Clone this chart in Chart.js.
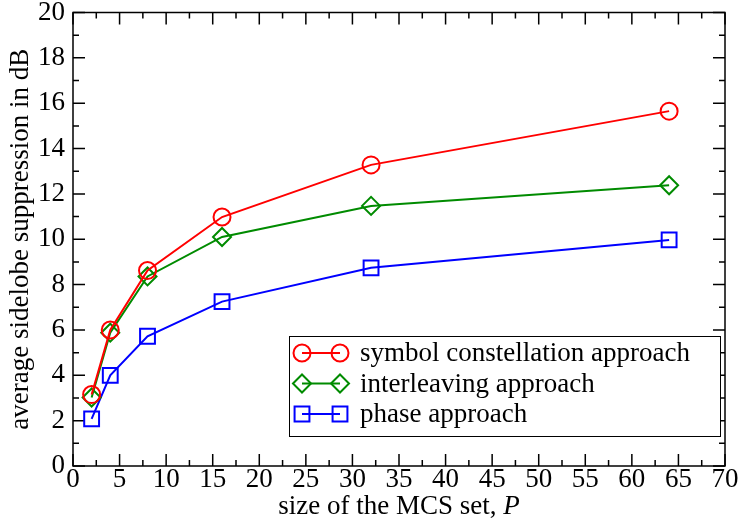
<!DOCTYPE html>
<html>
<head>
<meta charset="utf-8">
<script src="https://cdn.jsdelivr.net/npm/chart.js@4.4.0/dist/chart.umd.min.js"></script>
<style>
  html, body { margin: 0; padding: 0; background: #fff; }
  #wrap { width: 741px; height: 522px; }
</style>
</head>
<body>
<div id="wrap"><canvas id="chart" width="741" height="522"></canvas></div>
<script>
// data
const sizes = [2, 4, 8, 16, 32, 64];
const symbolConst = [3.15, 6.0, 8.62, 10.98, 13.28, 15.65];
const interleave = [3.02, 5.88, 8.36, 10.1, 11.47, 12.38];
const phase = [2.08, 4.0, 5.72, 7.25, 8.74, 9.97];
const xTicks = [0, 5, 10, 15, 20, 25, 30, 35, 40, 45, 50, 55, 60, 65, 70];
const yTicks = [0, 2, 4, 6, 8, 10, 12, 14, 16, 18, 20];
const seriesNames = ['symbol constellation approach', 'interleaving approach', 'phase approach'];

const FONT = '"Liberation Serif", "DejaVu Serif", serif';
const FS = 27;
const RED = '#ff0000', GREEN = '#008b00', BLUE = '#0000ff';

function pts(ys) {
    return sizes.map((s, i) => ({x: s, y: ys[i]}));
}

const series = [
    {name: seriesNames[0], data: symbolConst, color: RED, style: 'circle', r: 8.5},
    {name: seriesNames[1], data: interleave, color: GREEN, style: 'rectRot', r: 9},
    {name: seriesNames[2], data: phase, color: BLUE, style: 'rect', r: 10.5}
];

// frame + inward ticks on all four sides, legend and x title
const framePlugin = {
    id: 'frame',
    beforeDatasetsDraw(chart) {
        const {ctx, chartArea: a, scales: {x, y}} = chart;
        ctx.save();
        ctx.strokeStyle = '#000';
        ctx.lineWidth = 1.5;
        ctx.strokeRect(a.left, a.top, a.right - a.left, a.bottom - a.top);
        ctx.beginPath();
        for (let v = 0; v <= 70; v += 2.5) {
            const px = x.getPixelForValue(v);
            const len = v % 5 === 0 ? 12 : 6;
            ctx.moveTo(px, a.bottom); ctx.lineTo(px, a.bottom - len);
            ctx.moveTo(px, a.top); ctx.lineTo(px, a.top + len);
        }
        for (let v = 0; v <= 20; v += 1) {
            const py = y.getPixelForValue(v);
            const len = v % 2 === 0 ? 12 : 6;
            ctx.moveTo(a.left, py); ctx.lineTo(a.left + len, py);
            ctx.moveTo(a.right, py); ctx.lineTo(a.right - len, py);
        }
        ctx.stroke();
        ctx.restore();
    },
    afterDraw(chart) {
        const {ctx, chartArea: a} = chart;
        ctx.save();
        // x axis title with italic P
        ctx.fillStyle = '#000';
        ctx.textBaseline = 'middle';
        const t1 = 'size of the MCS set, ';
        ctx.font = FS + 'px ' + FONT;
        const w1 = ctx.measureText(t1).width;
        ctx.font = 'italic ' + FS + 'px ' + FONT;
        const w2 = ctx.measureText('P').width;
        const cx = (a.left + a.right) / 2;
        const sx = cx - (w1 + w2) / 2;
        ctx.font = FS + 'px ' + FONT;
        ctx.textAlign = 'left';
        ctx.fillText(t1, sx, 507);
        ctx.font = 'italic ' + FS + 'px ' + FONT;
        ctx.fillText('P', sx + w1, 507);

        // legend box
        const bx = 289, by = 336, bw = 431, bh = 100;
        ctx.fillStyle = '#fff';
        ctx.fillRect(bx, by, bw, bh);
        ctx.strokeStyle = '#000';
        ctx.lineWidth = 1;
        ctx.strokeRect(bx + 0.5, by + 0.5, bw, bh);
        series.forEach((s, i) => {
            const ry = 353 + i * 30.5;
            ctx.strokeStyle = s.color;
            ctx.fillStyle = 'rgba(0,0,0,0)';
            ctx.lineWidth = 2;
            ctx.beginPath();
            ctx.moveTo(302, ry); ctx.lineTo(340, ry);
            ctx.stroke();
            [302, 340].forEach(px => {
                Chart.helpers.drawPoint(ctx, {pointStyle: s.style, radius: s.r, rotation: 0, borderWidth: 2}, px, ry);
            });
            ctx.fillStyle = '#000';
            ctx.font = FS + 'px ' + FONT;
            ctx.textAlign = 'left';
            ctx.textBaseline = 'middle';
            ctx.fillText(s.name, 360, ry + 1);
        });
        ctx.restore();
    }
};

new Chart(document.getElementById('chart'), {
    type: 'line',
    data: {
        datasets: series.map(s => ({
            label: s.name,
            data: pts(s.data),
            borderColor: s.color,
            backgroundColor: 'rgba(0,0,0,0)',
            borderWidth: 2,
            pointStyle: s.style,
            pointRadius: s.r,
            pointBorderWidth: 2,
            pointBorderColor: s.color,
            pointBackgroundColor: 'rgba(0,0,0,0)',
            tension: 0,
            clip: false
        }))
    },
    options: {
        responsive: false,
        animation: false,
        devicePixelRatio: 1,
        layout: {padding: {top: 10, right: 16, left: 0, bottom: 0}},
        plugins: {legend: {display: false}, tooltip: {enabled: false}},
        scales: {
            x: {
                type: 'linear',
                min: 0, max: 70,
                afterBuildTicks: sc => { sc.ticks = xTicks.map(v => ({value: v})); },
                afterFit: sc => { sc.height = 56; sc.paddingLeft = 0; sc.paddingRight = 0; },
                grid: {display: false, drawTicks: false},
                border: {display: false},
                ticks: {color: '#000', padding: 0, maxRotation: 0, autoSkip: false, font: {family: FONT, size: FS, lineHeight: 1}}
            },
            y: {
                type: 'linear',
                min: 0, max: 20,
                afterBuildTicks: sc => { sc.ticks = yTicks.map(v => ({value: v})); },
                afterFit: sc => { sc.width = 73; sc.paddingTop = 0; sc.paddingBottom = 0; },
                grid: {display: false, drawTicks: false},
                border: {display: false},
                ticks: {color: '#000', padding: 8, autoSkip: false, font: {family: FONT, size: FS}},
                title: {
                    display: true,
                    text: 'average sidelobe suppression in dB',
                    color: '#000',
                    font: {family: FONT, size: FS, lineHeight: 1},
                    padding: {top: 7, bottom: 0}
                }
            }
        }
    },
    plugins: [framePlugin]
});
</script>
</body>
</html>
